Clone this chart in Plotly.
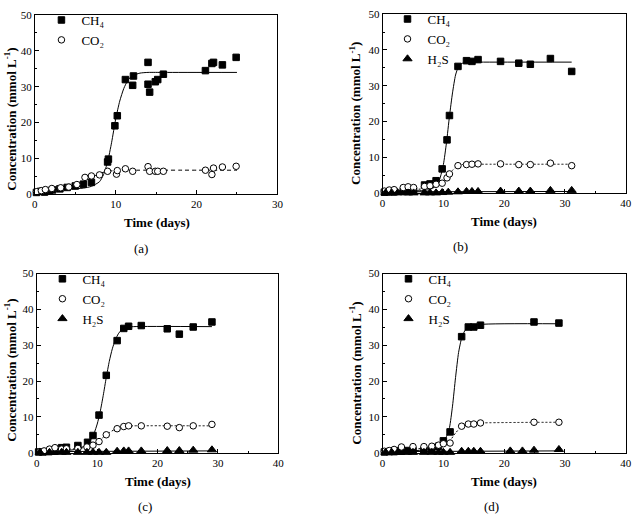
import plotly.graph_objects as go

W, H = 639, 517

# ---------------- Panel (a) ----------------
a_t_ch4 = [0.2, 0.7, 1.2, 1.8, 2.2, 3.1, 4.0, 5.0, 6.0, 7.0, 9.0, 9.1, 9.9, 10.2, 11.2, 12.1, 12.2,
           14.0, 14.0, 14.2, 14.9, 15.2, 15.9, 21.1, 21.9, 22.1, 23.2, 24.9]
a_ch4 = [0.5, 0.8, 0.6, 1.0, 1.2, 1.5, 1.9, 2.3, 2.8, 3.3, 9.0, 9.8, 19.1, 21.9, 32.0, 30.4, 33.0,
         36.8, 30.7, 28.5, 31.4, 32.0, 33.5, 34.5, 36.5, 36.8, 36.1, 38.2]
a_t_co2 = [0.2, 0.8, 1.3, 2.1, 3.2, 4.2, 5.2, 6.2, 7.0, 8.0, 9.0, 10.1, 10.2, 11.2, 12.1, 14.0, 14.2,
           14.9, 15.2, 15.9, 21.1, 21.9, 22.1, 23.2, 24.9]
a_co2 = [0.7, 1.0, 1.3, 1.6, 1.8, 2.0, 2.7, 4.7, 5.1, 5.4, 6.4, 5.6, 6.6, 7.1, 6.4, 7.7, 6.4,
         6.4, 6.4, 6.4, 6.7, 5.5, 7.3, 7.6, 7.8]
a_fit_t_ch4 = [0, 2, 4, 6, 7, 8, 8.5, 9, 9.5, 10, 10.5, 11, 11.5, 12, 13, 14, 16, 25]
a_fit_ch4 = [1.2, 1.3, 1.4, 1.7, 2.2, 3.5, 5.5, 9.0, 14.5, 21.0, 26.0, 29.5, 31.8, 33.0, 33.8, 34.0, 34.0, 34.0]
a_fit_t_co2 = [0, 2, 4, 5, 6, 7, 8, 9, 10, 12, 25]
a_fit_co2 = [1.0, 1.3, 1.9, 2.5, 3.4, 4.6, 5.8, 6.4, 6.6, 6.7, 6.7]

# ---------------- Panel (b) ----------------
b_t = [0.3, 1.1, 1.9, 3.4, 4.2, 5.1, 6.9, 7.8, 8.8, 9.8, 10.6, 11.0, 12.4, 13.8, 14.7, 15.7,
       19.4, 22.4, 24.3, 27.6, 31.1]
b_ch4 = [0.3, 0.4, 0.4, 0.5, 0.5, 0.6, 2.3, 2.6, 3.5, 6.8, 14.9, 21.7, 35.4, 37.0, 36.8, 37.3,
         36.8, 36.3, 36.0, 37.6, 34.0]
b_co2 = [0.6, 0.9, 1.0, 1.6, 1.8, 1.6, 1.9, 2.1, 2.5, 2.8, 4.3, 5.4, 7.7, 8.0, 8.1, 8.2,
         8.2, 8.0, 8.0, 8.4, 7.7]
b_t_h2s = [0.5, 1.5, 2.5, 4.2, 5.1, 6.9, 7.8, 8.8, 9.8, 10.8, 12.4, 13.8, 14.7, 15.7, 19.4, 22.4,
           24.3, 27.6, 31.1]
b_h2s = [0.1, 0.1, 0.1, 0.1, 0.1, 0.1, 0.1, 0.1, 0.2, 0.3, 0.4, 0.5, 0.5, 0.5, 0.6, 0.6, 0.6, 0.8, 0.8]
b_fit_t_ch4 = [0, 4, 7, 8, 9, 9.5, 10, 10.5, 11, 11.5, 12, 12.5, 13, 14, 16, 31.1]
b_fit_ch4 = [0.5, 0.6, 0.8, 1.2, 2.3, 4.5, 8.0, 14.0, 21.5, 28.0, 33.0, 35.4, 36.2, 36.6, 36.6, 36.6]
b_fit_t_co2 = [0, 4, 7, 8, 9, 10, 10.5, 11, 11.5, 12, 12.5, 13, 14, 16, 31.1]
b_fit_co2 = [0.6, 0.9, 1.3, 1.7, 2.3, 3.3, 4.2, 5.3, 6.4, 7.3, 7.8, 8.0, 8.1, 8.1, 8.1]
b_fit_t_h2s = [0, 31.1]
b_fit_h2s = [0.4, 0.5]

# ---------------- Panel (c) ----------------
c_t_ch4 = [0.3, 1.0, 2.0, 3.0, 4.1, 4.9, 6.8, 8.4, 9.3, 10.3, 11.5, 13.3, 14.4, 15.2, 17.3,
           21.6, 23.6, 25.9, 29.0]
c_ch4 = [0.2, 0.2, 0.3, 0.4, 1.4, 1.5, 2.0, 2.9, 4.8, 10.5, 21.6, 31.3, 34.7, 35.3, 35.5,
         34.6, 33.1, 35.1, 36.5]
c_t_co2 = [0.5, 1.2, 2.1, 3.0, 4.1, 4.9, 6.8, 8.3, 9.3, 10.3, 11.5, 13.3, 14.4, 15.2, 17.3,
           21.6, 23.6, 25.9, 29.0]
c_co2 = [0.3, 0.5, 1.0, 1.4, 1.0, 1.1, 1.2, 1.6, 2.1, 3.1, 5.0, 6.7, 7.3, 7.5, 7.5,
         7.4, 7.0, 7.5, 7.9]
c_t_h2s = [0.5, 2.1, 4.1, 4.9, 6.8, 8.3, 9.3, 10.3, 11.5, 13.3, 14.4, 15.2, 17.3, 21.6, 23.6, 25.9, 29.0]
c_h2s = [0.1, 0.1, 0.1, 0.1, 0.1, 0.1, 0.1, 0.1, 0.1, 0.4, 0.5, 0.5, 0.5, 0.6, 0.6, 0.7, 0.8]
c_fit_t_ch4 = [0, 4, 6, 7, 8, 9, 9.5, 10, 10.5, 11, 11.5, 12, 12.5, 13, 13.5, 14, 15, 16, 29]
c_fit_ch4 = [0.3, 0.5, 0.8, 1.2, 2.0, 3.8, 5.5, 8.0, 11.5, 16.0, 21.0, 25.5, 29.0, 31.5, 33.2, 34.2, 35.0, 35.2, 35.2]
c_fit_t_co2 = [0, 4, 7, 8, 9, 10, 11, 12, 13, 14, 15, 16, 29]
c_fit_co2 = [0.5, 0.8, 1.2, 1.5, 2.1, 3.0, 4.3, 5.6, 6.6, 7.2, 7.4, 7.5, 7.5]
c_fit_t_h2s = [0, 29]
c_fit_h2s = [0.3, 0.5]

# ---------------- Panel (d) ----------------
d_t_ch4 = [0.3, 1.1, 1.9, 2.5, 3.1, 4.2, 5.0, 6.8, 8.1, 9.2, 10.0, 11.1, 13.0, 14.1, 15.0, 16.1, 24.9, 29.0]
d_ch4 = [0.2, 0.3, 0.3, 0.5, 0.4, 0.6, 0.6, 0.7, 0.9, 1.8, 3.3, 5.8, 32.4, 35.1, 35.1, 35.6, 36.5, 36.2]
d_t_co2 = [0.3, 1.1, 1.9, 3.1, 5.0, 6.8, 8.1, 9.2, 10.0, 11.1, 13.0, 14.1, 15.0, 16.1, 24.9, 29.0]
d_co2 = [0.4, 0.6, 0.9, 1.6, 1.7, 1.7, 1.8, 2.1, 2.5, 2.7, 7.4, 8.0, 8.0, 8.3, 8.5, 8.5]
d_t_h2s = [0.5, 1.5, 2.5, 4.0, 5.0, 6.8, 8.1, 9.2, 10.0, 11.1, 13.0, 14.1, 15.0, 16.1, 21.0, 23.0, 24.9, 29.0]
d_h2s = [0.1, 0.1, 0.1, 0.1, 0.1, 0.1, 0.1, 0.1, 0.1, 0.1, 0.4, 0.4, 0.4, 0.4, 0.5, 0.5, 0.7, 0.9]
d_fit_t_ch4 = [0, 4, 8, 9, 10, 10.5, 11, 11.5, 12, 12.5, 13, 13.5, 14, 16, 29]
d_fit_ch4 = [0.4, 0.5, 0.9, 1.5, 3.0, 4.5, 7.0, 13.0, 21.0, 28.0, 32.0, 34.0, 35.0, 35.8, 36.0]
d_fit_t_co2 = [0, 5, 8, 9, 10, 11, 12, 13, 14, 16, 29]
d_fit_co2 = [0.6, 1.0, 1.4, 1.7, 2.2, 3.2, 5.5, 7.3, 8.0, 8.3, 8.5]
d_fit_t_h2s = [0, 29]
d_fit_h2s = [0.3, 0.5]

# ---------------- layout in pixels ----------------
FONT = "Liberation Serif"
panels = [
    dict(x0=32.3, x1=278.3, yt=9.3, yb=192.7, xmax=30),
    dict(x0=385.0, x1=631.7, yt=8.3, yb=191.7, xmax=40),
    dict(x0=34.3, x1=279.3, yt=274.0, yb=457.3, xmax=40),
    dict(x0=385.0, x1=631.7, yt=274.0, yb=457.3, xmax=40),
]

fig = go.Figure()

def px(x):
    return x / W

def py(y):
    return 1 - y / H

def add_series(i, t, v, name, symbol, fill, legend, show=True):
    ax = "" if i == 0 else str(i + 1)
    fig.add_trace(go.Scatter(
        x=t, y=v, mode="markers", name=name,
        xaxis="x" + ax, yaxis="y" + ax, legend=legend, showlegend=show,
        cliponaxis=False,
        marker=dict(symbol=symbol, size=6.5 if symbol != "triangle-up" else 8,
                    color="black" if fill else "white",
                    line=dict(color="black", width=1)),
    ))

def add_fit(i, t, v, dash):
    ax = "" if i == 0 else str(i + 1)
    fig.add_trace(go.Scatter(
        x=t, y=v, mode="lines", showlegend=False, hoverinfo="skip",
        xaxis="x" + ax, yaxis="y" + ax,
        line=dict(color="black", width=1, dash=dash, shape="spline", smoothing=0.6),
    ))

CH4 = "CH₄"
CO2 = "CO₂"
H2S = "H₂S"

# panel a
add_fit(0, a_fit_t_ch4, a_fit_ch4, "solid")
add_fit(0, a_fit_t_co2, a_fit_co2, "4px,3px")
add_series(0, a_t_ch4, a_ch4, CH4, "square", True, "legend")
add_series(0, a_t_co2, a_co2, CO2, "circle", False, "legend")

# panel b
add_fit(1, b_fit_t_ch4, b_fit_ch4, "solid")
add_fit(1, b_fit_t_co2, b_fit_co2, "2px,2px")
add_fit(1, b_fit_t_h2s, b_fit_h2s, "solid")
add_series(1, b_t, b_ch4, CH4, "square", True, "legend2")
add_series(1, b_t, b_co2, CO2, "circle", False, "legend2")
add_series(1, b_t_h2s, b_h2s, H2S, "triangle-up", True, "legend2")

# panel c
add_fit(2, c_fit_t_ch4, c_fit_ch4, "solid")
add_fit(2, c_fit_t_co2, c_fit_co2, "2px,2px")
add_fit(2, c_fit_t_h2s, c_fit_h2s, "solid")
add_series(2, c_t_ch4, c_ch4, CH4, "square", True, "legend3")
add_series(2, c_t_co2, c_co2, CO2, "circle", False, "legend3")
add_series(2, c_t_h2s, c_h2s, H2S, "triangle-up", True, "legend3")

# panel d
add_fit(3, d_fit_t_ch4, d_fit_ch4, "solid")
add_fit(3, d_fit_t_co2, d_fit_co2, "2px,2px")
add_fit(3, d_fit_t_h2s, d_fit_h2s, "solid")
add_series(3, d_t_ch4, d_ch4, CH4, "square", True, "legend4")
add_series(3, d_t_co2, d_co2, CO2, "circle", False, "legend4")
add_series(3, d_t_h2s, d_h2s, H2S, "triangle-up", True, "legend4")

layout = dict(
    width=W, height=H, margin=dict(l=0, r=0, t=0, b=0),
    paper_bgcolor="white", plot_bgcolor="white",
    font=dict(family=FONT, size=11, color="black"),
)

for i, p in enumerate(panels):
    ax = "" if i == 0 else str(i + 1)
    common = dict(showline=True, linecolor="black", linewidth=1, mirror=True,
                  ticks="inside", ticklen=4, tickcolor="black", showgrid=False,
                  zeroline=False, tickfont=dict(family=FONT, size=11, color="black"),
                  minor=dict(ticks="inside", ticklen=2, tickcolor="black", dtick=5))
    layout["xaxis" + ax] = dict(domain=[px(p["x0"]), px(p["x1"])], range=[0, p["xmax"]],
                                dtick=10, anchor="y" + ax, **common)
    layout["yaxis" + ax] = dict(domain=[py(p["yb"]), py(p["yt"])], range=[0, 50],
                                dtick=10, anchor="x" + ax, **common)

leg_pos = [(39, -1), (390, -2), (40, 264), (391, 264)]
for i, (lx, ly) in enumerate(leg_pos):
    key = "legend" if i == 0 else "legend" + str(i + 1)
    layout[key] = dict(x=px(lx), y=py(ly), xanchor="left", yanchor="top",
                       bgcolor="rgba(0,0,0,0)", borderwidth=0,
                       font=dict(family=FONT, size=13, color="black"),
                       itemwidth=30, tracegroupgap=0)

fig.update_layout(**layout)

ytitle = "Concentration (mmol L<sup>-1</sup>)"
annos = []
for (xc, yc) in [(7, 115.5), (357.5, 110), (7.5, 373), (357.5, 376)]:
    annos.append(dict(x=px(xc), y=py(yc), xref="paper", yref="paper", text=ytitle,
                      textangle=-90, showarrow=False, xanchor="center", yanchor="middle",
                      font=dict(family=FONT, size=13, color="black", weight="bold")))
for (xc, yc) in [(156, 221.7), (508.3, 220.7), (157.5, 487.3), (508.3, 487.3)]:
    annos.append(dict(x=px(xc), y=py(yc), xref="paper", yref="paper", text="Time (days)",
                      showarrow=False, xanchor="center", yanchor="middle",
                      font=dict(family=FONT, size=13, color="black", weight="bold")))
for (lab, xc, yc) in [("(a)", 140, 248), ("(b)", 464, 246.7), ("(c)", 144.3, 512), ("(d)", 495.7, 512)]:
    annos.append(dict(x=px(xc), y=py(yc), xref="paper", yref="paper", text=lab,
                      showarrow=False, xanchor="center", yanchor="middle",
                      font=dict(family=FONT, size=13, color="black")))
fig.update_layout(annotations=annos)

fig.write_html("out.html")
